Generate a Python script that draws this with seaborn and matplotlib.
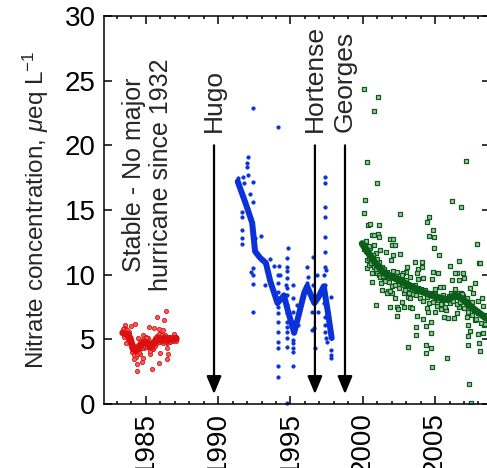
import matplotlib
matplotlib.use("Agg")
import matplotlib.pyplot as plt
from matplotlib.ticker import MultipleLocator
import seaborn as sns

# ---------------- data ----------------
red_pts_x = [1986.38, 1985.74, 1986.24, 1984.24, 1983.55, 1983.94, 1985.23, 1985.55,
             1985.92, 1986.20, 1986.96, 1985.74, 1985.16, 1986.24, 1986.43, 1986.47,
             1985.46, 1985.97, 1986.50, 1986.47, 1985.92, 1985.28, 1984.88, 1984.77,
             1984.31, 1984.70, 1984.35, 1984.40, 1985.39, 1984.54, 1984.17, 1983.62,
             1984.82, 1984.47, 1983.45, 1983.60, 1983.80, 1984.00, 1984.60, 1985.00,
             1985.60, 1986.00, 1986.60, 1986.80, 1987.00,
             1983.40, 1983.45, 1983.50, 1983.60, 1983.70, 1983.75, 1983.85, 1983.95,
             1984.05, 1984.10, 1984.20, 1984.25, 1984.35, 1984.45, 1984.55, 1984.60,
             1984.70, 1984.80, 1984.90, 1985.00, 1985.10, 1985.20, 1985.30, 1985.35,
             1985.45, 1985.50, 1985.60, 1985.70, 1985.80, 1985.90, 1986.00, 1986.10,
             1986.20, 1986.30, 1986.40, 1986.55, 1986.65, 1986.75, 1986.85, 1986.95,
             1987.05, 1987.10]
red_pts_y = [7.19, 6.70, 6.49, 6.18, 6.11, 6.03, 5.98, 5.85,
             5.77, 5.72, 5.39, 5.26, 5.08, 4.95, 4.74, 4.30,
             4.25, 3.92, 3.87, 3.45, 3.19, 3.84, 4.30, 3.53,
             3.66, 3.27, 3.09, 2.55, 2.68, 3.92, 3.45, 4.69,
             5.33, 5.08, 5.90, 5.80, 5.60, 4.70, 3.90, 5.20,
             5.10, 5.40, 5.20, 5.00, 5.10,
             5.8, 5.2, 5.6, 5.3, 5.7, 5.0, 5.4, 4.6,
             4.0, 4.6, 3.8, 4.4, 3.9, 4.6, 4.0, 4.8,
             4.3, 5.0, 4.5, 5.1, 4.4, 4.9, 4.1, 4.7,
             4.3, 4.9, 4.5, 5.2, 4.7, 5.4, 4.8, 5.3,
             4.7, 5.3, 4.8, 5.2, 4.8, 5.2, 4.9, 5.2,
             4.9, 5.2]
red_line_x = [1983.4, 1983.7, 1983.9, 1984.1, 1984.3, 1984.5, 1984.7, 1984.9, 1985.1,
              1985.3, 1985.5, 1985.7, 1985.9, 1986.1, 1986.3, 1986.5, 1986.7, 1986.9, 1987.1]
red_line_y = [5.5, 5.4, 5.1, 4.3, 4.1, 4.3, 4.6, 4.8, 4.7,
              4.4, 4.6, 4.9, 5.1, 4.9, 5.1, 4.9, 5.0, 5.0, 5.05]

blue_pts_x = [1992.43, 1994.16, 1992.08, 1991.97, 1991.97, 1991.74, 1992.04, 1991.39,
              1991.81, 1992.43, 1992.20, 1992.43, 1991.62, 1991.62, 1991.62, 1991.67,
              1991.62, 1992.54, 1992.96, 1992.43, 1992.27, 1992.43, 1992.43, 1992.43,
              1993.24, 1993.58, 1993.88, 1994.20, 1994.16, 1994.27, 1994.16, 1994.16,
              1994.16, 1994.16, 1994.16, 1994.16, 1994.16, 1994.16, 1994.16, 1994.16,
              1994.16, 1994.73, 1994.73, 1994.73, 1994.73, 1994.66, 1994.73, 1994.73,
              1994.73, 1994.73, 1994.73, 1994.73, 1994.73, 1994.73, 1994.73, 1994.85,
              1995.19, 1995.19, 1995.19, 1995.19, 1995.19, 1995.19, 1995.19, 1995.19,
              1995.19, 1995.19, 1995.42, 1995.54, 1996.12, 1996.19, 1996.12, 1996.23,
              1996.42, 1996.46, 1996.58, 1996.46, 1996.65, 1996.69, 1996.81, 1996.58,
              1996.92, 1997.04, 1997.38, 1997.38, 1997.38, 1997.38, 1997.38, 1997.38,
              1997.38, 1997.43, 1997.34, 1997.38, 1997.34, 1997.38, 1997.38, 1997.38,
              1997.43, 1997.50, 1997.80, 1997.80, 1997.80, 1997.80, 1994.73]
blue_pts_y = [22.87, 21.40, 19.13, 18.62, 18.36, 17.59, 17.72, 17.51,
              17.07, 17.15, 16.22, 15.65, 14.88, 14.49, 13.46, 12.82,
              12.38, 12.82, 13.00, 10.50, 10.19, 9.98, 9.29, 7.15,
              9.21, 11.22, 10.70, 10.70, 9.98, 9.98, 9.34, 8.69,
              8.18, 7.53, 7.02, 6.37, 5.60, 4.83, 4.31, 2.90,
              2.12, 11.32, 10.63, 10.29, 9.72, 9.21, 8.95, 8.44,
              7.66, 7.02, 6.37, 5.99, 5.60, 5.09, 4.44, 12.10,
              9.21, 8.18, 7.15, 6.37, 5.86, 4.96, 4.70, 4.31,
              4.05, 2.90, 7.66, 6.12, 10.63, 9.85, 9.34, 8.69,
              8.18, 7.15, 11.40, 5.73, 5.86, 4.31, 9.98, 9.21,
              7.15, 8.44, 17.59, 17.07, 15.27, 14.49, 12.95, 11.79,
              10.63, 10.37, 9.98, 9.21, 7.79, 6.76, 6.12, 5.60,
              5.09, 4.83, 8.31, 4.18, 3.80, 3.54, 0.05]
blue_line_x = [1991.35, 1991.9, 1992.35, 1992.55, 1992.9, 1993.3, 1993.6, 1994.1,
               1994.55, 1994.8, 1995.25, 1995.55, 1995.95, 1996.15, 1996.65, 1996.9,
               1997.3, 1997.6, 1997.85]
blue_line_y = [17.2, 15.5, 14.0, 11.8, 11.3, 10.9, 9.5, 7.8,
               8.4, 7.3, 5.5, 6.8, 8.6, 9.1, 7.8, 8.2,
               9.1, 7.0, 5.1]

green_pts_x = [2000.11, 2001.03, 2000.80, 2000.31, 2000.96, 2000.15, 2000.11, 2007.11,
               2006.19, 2006.76, 2002.57, 2004.58, 2004.42, 2004.88, 2004.58, 2004.92,
               2004.92, 2005.27, 2007.87, 2008.06, 2000.34, 2000.50, 2001.12, 2000.61,
               2000.80, 2001.03, 2001.12, 2001.88, 2002.06, 2001.99, 2002.23, 2000.80,
               2001.19, 2001.58, 2002.11, 2002.57, 2001.95, 2000.27, 2000.27, 2000.43,
               2000.61, 2000.96, 2000.66, 2001.26, 2001.35, 2001.65, 2001.77, 2002.04,
               2002.23, 2002.34, 2002.41, 2001.88, 2002.34, 2000.89, 2002.87, 2003.15,
               2003.26, 2003.38, 2003.72, 2003.66, 2003.66, 2003.10, 2004.19, 2004.35,
               2004.42, 2004.49, 2004.72, 2004.72, 2004.35, 2004.35, 2004.72, 2004.81,
               2005.80, 2004.99, 2005.41, 2005.64, 2005.73, 2005.91, 2006.33, 2006.49,
               2006.65, 2007.18, 2007.30, 2007.41, 2007.30, 2007.25, 2007.37, 2007.48,
               2007.76, 2007.94, 2008.33, 2008.40, 2008.04, 2008.10, 2007.76, 2008.10,
               2007.99, 2008.22, 2008.33, 2007.64, 2007.41, 2007.02, 2006.95, 2006.65,
               2006.49, 2006.38, 2006.03, 2006.65, 2006.15, 2006.61, 2006.79, 2005.57,
               2005.22, 2004.81, 2004.88, 2004.19, 2004.07, 2004.07, 2003.61, 2003.84,
               2003.72, 2003.79, 2003.03, 2002.96, 2002.80, 2002.64, 2003.15, 2003.49,
               2003.56, 2004.99, 2005.34, 2005.18, 2005.50, 2005.96, 2006.15, 2006.95,
               2007.18, 2007.53, 2007.30, 2001.65, 2001.49, 2001.26, 2001.12, 2000.89,
               2000.66, 2000.38, 2000.50, 2002.46, 2002.04, 2001.88, 2002.69, 2002.87,
               2003.26,
               2000.05, 2000.20, 2000.25, 2000.40, 2000.45, 2000.55, 2000.70, 2000.75,
               2000.90, 2001.00, 2001.10, 2001.20, 2001.30, 2001.40, 2001.45, 2001.55,
               2001.70, 2001.80, 2001.90, 2002.00, 2002.10, 2002.20, 2002.30, 2002.40,
               2002.50, 2002.60, 2002.70, 2002.80, 2002.90, 2003.00, 2003.10, 2003.20,
               2003.30, 2003.45, 2003.60, 2003.70, 2003.85, 2003.95, 2004.05, 2004.15,
               2004.30, 2004.45, 2004.60, 2004.70, 2004.85, 2005.00, 2005.10, 2005.25,
               2005.40, 2005.55, 2005.70, 2005.85, 2006.00, 2006.10, 2006.25, 2006.40,
               2006.50, 2006.60, 2006.75, 2006.85, 2007.00, 2007.10, 2007.25, 2007.40,
               2007.55, 2007.70, 2007.85, 2008.00, 2008.15, 2008.30, 2008.45, 2008.60]
green_pts_y = [24.34, 23.77, 22.69, 18.69, 17.07, 15.78, 14.80, 18.77,
               15.70, 15.27, 14.67, 14.49, 14.05, 13.46, 13.00, 12.95,
               12.10, 11.53, 12.35, 10.94, 13.85, 13.93, 13.85, 13.08,
               13.08, 13.15, 12.95, 12.77, 12.74, 12.30, 12.30, 12.30,
               11.92, 11.76, 11.53, 11.61, 11.14, 11.14, 10.50, 10.76,
               10.16, 10.16, 9.47, 9.34, 8.82, 9.60, 8.70, 8.62,
               8.18, 7.53, 7.33, 7.53, 6.81, 7.66, 8.56, 8.25,
               7.53, 7.46, 6.81, 5.94, 5.34, 4.44, 6.55, 6.04,
               7.40, 7.15, 6.37, 5.47, 4.57, 3.98, 4.31, 2.89,
               3.54, 7.15, 7.33, 6.71, 7.28, 6.63, 6.63, 7.02,
               7.53, 6.76, 6.12, 5.68, 5.27, 4.57, 1.55, 0.06,
               6.50, 5.42, 5.47, 6.12, 4.75, 4.13, 9.34, 10.94,
               8.00, 8.18, 7.59, 8.56, 8.95, 9.73, 10.16, 9.60,
               10.16, 10.16, 10.68, 11.09, 9.60, 8.56, 8.56, 9.08,
               10.11, 9.65, 10.24, 9.73, 10.63, 11.01, 11.01, 10.42,
               10.16, 9.65, 10.63, 10.24, 10.11, 9.73, 8.95, 9.03,
               8.69, 8.87, 9.03, 8.05, 7.84, 8.36, 8.05, 8.36,
               8.18, 7.92, 7.28, 8.56, 9.73, 10.11, 11.01, 11.66,
               11.53, 11.66, 12.04, 9.29, 9.13, 8.70, 7.92, 7.53,
               8.18,
               12.0, 11.8, 12.6, 11.3, 12.2, 10.9, 11.5, 10.6,
               10.4, 11.2, 10.0, 9.8, 10.6, 9.9, 10.4, 9.5,
               10.2, 9.4, 10.0, 9.8, 10.3, 9.2, 9.9, 10.2,
               9.0, 9.5, 10.0, 9.2, 8.8, 9.6, 9.3, 8.6,
               9.8, 8.5, 9.2, 8.4, 9.0, 8.2, 8.9, 8.0,
               8.8, 8.3, 7.8, 8.6, 7.9, 8.5, 7.6, 8.2,
               7.7, 8.4, 7.5, 8.2, 7.8, 8.6, 8.0, 8.9,
               7.7, 8.3, 7.9, 8.5, 7.4, 8.0, 7.1, 7.6,
               6.9, 7.3, 6.6, 7.0, 6.3, 6.8, 6.2, 6.9]
green_line_x = [1999.96, 2000.8, 2001.5, 2002.45, 2003.4, 2004.06, 2005.0, 2005.9,
                2006.37, 2006.84, 2007.5, 2008.57]
green_line_y = [12.4, 11.0, 10.1, 9.6, 9.07, 8.7, 8.3, 8.05,
                8.43, 8.17, 7.5, 6.6]

hurricane_names = ["Hugo", "Hortense", "Georges"]
hurricane_years = [1989.71, 1996.69, 1998.77]
stable_text = "Stable - No major\nhurricane since 1932"
y_label = r"Nitrate concentration, $\mu$eq L$^{\mathregular{-1}}$"
x_ticks = [1985, 1990, 1995, 2000, 2005]
y_ticks = [0, 5, 10, 15, 20, 25, 30]

# ---------------- style ----------------
sns.set_theme(style="ticks")
plt.rcParams["font.family"] = ["Liberation Sans", "DejaVu Sans"]
plt.rcParams["mathtext.fontset"] = "custom"
plt.rcParams["mathtext.rm"] = "Liberation Sans"
plt.rcParams["mathtext.it"] = "Liberation Sans:italic"

RED = "#dd1010"
BLUE = "#0a32d8"
GREEN = "#0b5e1a"

fig = plt.figure(figsize=(4.87, 4.68), dpi=100)
ax = fig.add_axes([104 / 487, 64 / 468, 386 / 487, 388 / 468])

# red period
sns.scatterplot(x=red_pts_x, y=red_pts_y, ax=ax, marker="o", s=9,
                color="#f06060", edgecolor=RED, linewidth=0.6, zorder=2, legend=False)
sns.lineplot(x=red_line_x, y=red_line_y, ax=ax, color=RED, lw=5,
             sort=False, estimator=None, zorder=3)

# blue period
sns.scatterplot(x=blue_pts_x, y=blue_pts_y, ax=ax, marker="o", s=7,
                color=BLUE, edgecolor=BLUE, linewidth=0.3, zorder=2, legend=False,
                clip_on=False)
sns.lineplot(x=blue_line_x, y=blue_line_y, ax=ax, color=BLUE, lw=4.3,
             sort=False, estimator=None, zorder=3)

# green period
sns.scatterplot(x=green_pts_x, y=green_pts_y, ax=ax, marker="s", s=6,
                color="#a9c6a9", edgecolor=GREEN, linewidth=0.9, zorder=2, legend=False)
sns.lineplot(x=green_line_x, y=green_line_y, ax=ax, color=GREEN, lw=5,
             sort=False, estimator=None, zorder=3)

# hurricane arrows and labels
for name, yr in zip(hurricane_names, hurricane_years):
    ax.annotate("", xy=(yr, 0.77), xytext=(yr, 20.0),
                arrowprops=dict(arrowstyle="-|>,head_length=0.6,head_width=0.25",
                                mutation_scale=18, color="black", lw=1.6,
                                shrinkA=0, shrinkB=0), zorder=4)
    ax.text(yr, 21.05, name, rotation=90, ha="center", va="bottom", fontsize=19)

ax.text(1985.1, 17.7, stable_text, rotation=90, ha="center", va="center",
        fontsize=18, linespacing=1.15, multialignment="center")

ax.set_xlim(1982.1, 2008.8)
ax.set_ylim(0, 30)
ax.set_xticks(x_ticks)
ax.set_xticklabels([str(t) for t in x_ticks], rotation=90)
ax.xaxis.set_minor_locator(MultipleLocator(1))
ax.set_yticks(y_ticks)
ax.set_yticklabels([str(t) for t in y_ticks])
ax.tick_params(which="both", direction="in", top=True, right=True,
               width=1.1, colors="black", labelsize=20)
ax.tick_params(which="major", length=5.5, pad=6)
ax.tick_params(which="minor", length=2.5)
for sp in ax.spines.values():
    sp.set_linewidth(1.1)
    sp.set_color("black")
ax.set_ylabel(y_label, fontsize=17.5, labelpad=10)
ax.set_xlabel("")

fig.savefig("out.png", dpi=100)
